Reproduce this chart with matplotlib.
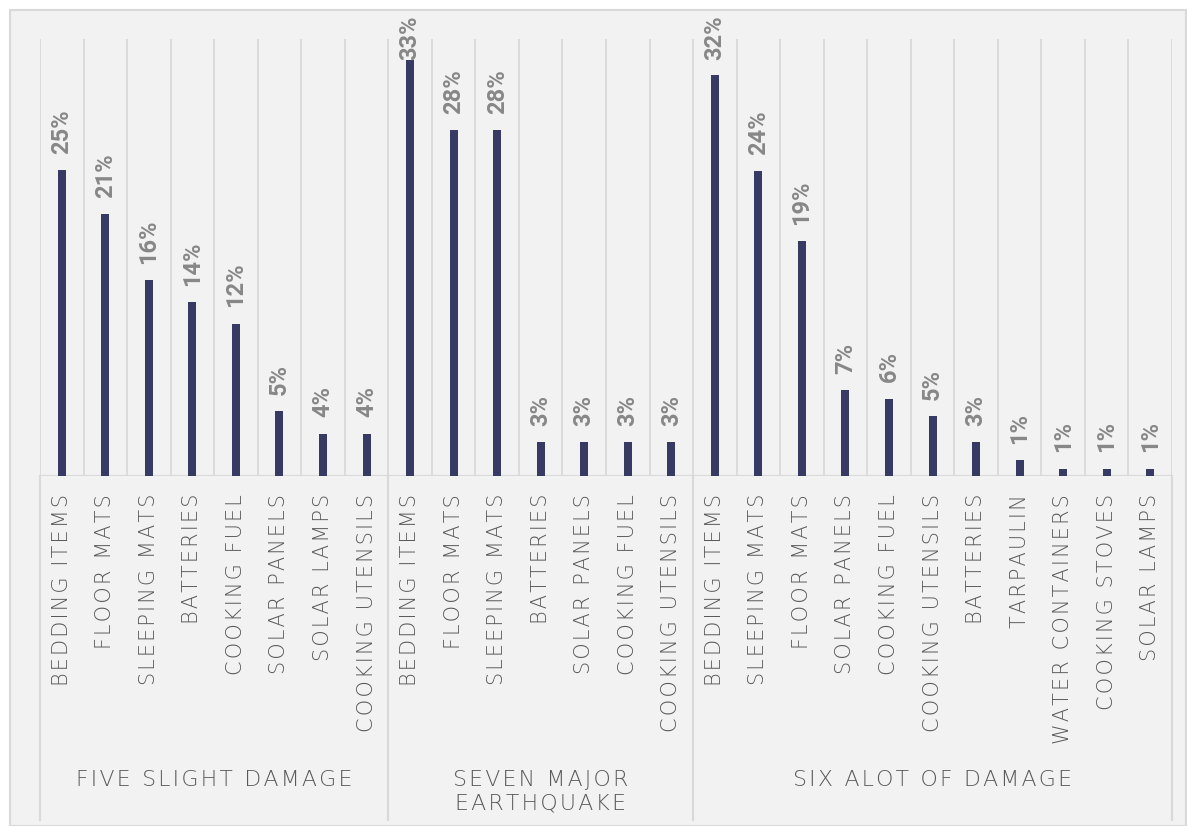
import matplotlib
matplotlib.use("Agg")
import matplotlib.pyplot as plt
import matplotlib.transforms as mtransforms
from matplotlib.patches import Rectangle
from matplotlib.lines import Line2D

# ============================================================
# DATA (bar heights, labels as printed)
# ============================================================

groups = ["FIVE SLIGHT DAMAGE", "SEVEN MAJOR\nEARTHQUAKE", "SIX ALOT OF DAMAGE"]

five_items = ["BEDDING ITEMS", "FLOOR MATS", "SLEEPING MATS", "BATTERIES",
              "COOKING FUEL", "SOLAR PANELS", "SOLAR LAMPS", "COOKING UTENSILS"]
five_values = [24.5, 21.0, 15.7, 13.9, 12.2, 5.2, 3.4, 3.4]
five_labels = [25, 21, 16, 14, 12, 5, 4, 4]

seven_items = ["BEDDING ITEMS", "FLOOR MATS", "SLEEPING MATS", "BATTERIES",
               "SOLAR PANELS", "COOKING FUEL", "COOKING UTENSILS"]
seven_values = [33.3, 27.7, 27.7, 2.7, 2.7, 2.7, 2.7]
seven_labels = [33, 28, 28, 3, 3, 3, 3]

six_items = ["BEDDING ITEMS", "SLEEPING MATS", "FLOOR MATS", "SOLAR PANELS",
             "COOKING FUEL", "COOKING UTENSILS", "BATTERIES", "TARPAULIN",
             "WATER CONTAINERS", "COOKING STOVES", "SOLAR LAMPS"]
six_values = [32.1, 24.4, 18.8, 6.9, 6.2, 4.8, 2.7, 1.3, 0.6, 0.6, 0.6]
six_labels = [32, 24, 19, 7, 6, 5, 3, 1, 1, 1, 1]

# ============================================================
# STYLE
# ============================================================

BAR_COLOR = "#373a62"
GRID_COLOR = "#d9d9d9"
PANEL_COLOR = "#f2f2f2"
TEXT_COLOR = "#595959"
LABEL_COLOR = "#878787"

W, H = 1187, 826
Y_MAX = 35
LABEL_GAP = 1.3      # data units between bar top and its label
LABEL_CAP = 33.35    # labels are pushed down so they stay inside the chart


def spaced(text):
    # imitate letter spacing with hair spaces
    return "\n".join("\u200a".join(line) for line in text.split("\n"))


items = five_items + seven_items + six_items
values = five_values + seven_values + six_values
labels = five_labels + seven_labels + six_labels
sizes = [len(five_items), len(seven_items), len(six_items)]

fig = plt.figure(figsize=(W / 100, H / 100), dpi=100)
fig.patch.set_facecolor("white")

fig.patches.append(Rectangle(
    (10 / W, 0), (W - 11) / W, (H - 10) / H,
    transform=fig.transFigure,
    facecolor=PANEL_COLOR,
    edgecolor=GRID_COLOR,
    linewidth=1.5,
    zorder=-1
))

ax_left, ax_right = 40 / W, 1172 / W
ax_bottom, ax_top = (H - 476) / H, (H - 39) / H

ax = fig.add_axes([ax_left, ax_bottom, ax_right - ax_left, ax_top - ax_bottom])
ax.set_facecolor("none")

n = len(items)
x = [i + 0.5 for i in range(n)]

ax.bar(x, values, width=0.185, color=BAR_COLOR, zorder=3)

ax.set_xlim(0, n)
ax.set_ylim(0, Y_MAX)

for spine in ax.spines.values():
    spine.set_visible(False)
ax.set_xticks([])
ax.set_yticks([])

# vertical gridlines between categories
ax.vlines(range(n + 1), 0, Y_MAX, color=GRID_COLOR, linewidth=1.3, zorder=1)
ax.axhline(0, color=GRID_COLOR, linewidth=1.5, zorder=2)

# value labels
for xi, v, lab in zip(x, values, labels):
    ax.text(
        xi, min(v + LABEL_GAP, LABEL_CAP),
        f"{lab}%",
        rotation=90,
        ha="center",
        va="bottom",
        fontsize=17,
        fontweight="bold",
        family="Roboto",
        color=LABEL_COLOR,
        clip_on=False
    )

trans = mtransforms.blended_transform_factory(ax.transData, ax.transAxes)
ax_h_px = 476 - 39

# category labels
for xi, name in zip(x, items):
    ax.text(
        xi, -18 / ax_h_px, spaced(name),
        transform=trans,
        rotation=90,
        ha="center",
        va="top",
        fontsize=15,
        fontweight="light",
        color=TEXT_COLOR
    )

# group separators and group labels
bounds = [0]
for s in sizes:
    bounds.append(bounds[-1] + s)

line_bottom = -344 / ax_h_px
for b in bounds:
    ax.add_line(Line2D(
        [b, b], [0, line_bottom],
        transform=trans,
        color=GRID_COLOR,
        linewidth=1.5,
        clip_on=False
    ))

for g, start, end in zip(groups, bounds[:-1], bounds[1:]):
    ax.text(
        (start + end) / 2, -294 / ax_h_px, spaced(g),
        transform=trans,
        ha="center",
        va="top",
        fontsize=15.8,
        fontweight="light",
        linespacing=1.2,
        color=TEXT_COLOR
    )

fig.savefig("out.png", dpi=100)
